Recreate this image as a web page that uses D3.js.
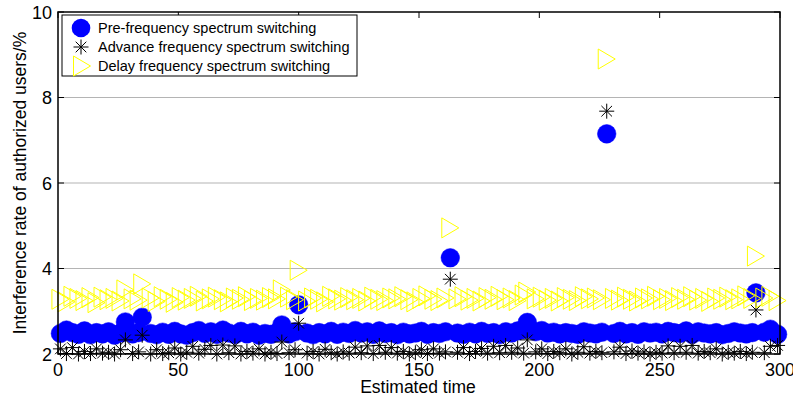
<!DOCTYPE html>
<html><head><meta charset="utf-8">
<script src="https://cdn.jsdelivr.net/npm/d3@7"></script>
<style>body{margin:0;background:#fff}svg{display:block}text{font-family:"Liberation Sans",Arial,sans-serif}</style>
</head><body><svg id="c" width="793" height="399"></svg>
<script>
const times = [1,3.5,6,8.5,11,13.5,16,18.5,21,23.5,26,28,31,33.5,35,38.5,41,43.5,46,48.5,
51,53.5,56,58.5,61,63.5,66,68.5,71,73.5,76,78.5,81,83.5,86,88.5,91,93,96,98.5,
100,103.5,106,108.5,111,113.5,116,118.5,121,123.5,126,128.5,131,133.5,136,138.5,141,143.5,146,148.5,
151,153.5,156,158.5,161,163,166,168.5,171,173.5,176,178.5,181,183.5,186,188.5,191,193.5,195,198.5,
201,203.5,206,208.5,211,213.5,216,218.5,221,223.5,226,228,231,233.5,236,238.5,241,243.5,246,248.5,
251,253.5,256,258.5,261,263.5,266,268.5,271,273.5,276,278.5,281,283.5,286,288.5,290,293.5,296,299];
const preSwitch = [2.48,2.56,2.50,2.46,2.54,2.45,2.50,2.47,2.52,2.44,2.49,2.75,2.47,2.50,2.86,2.48,2.45,2.51,2.46,2.53,
2.47,2.44,2.50,2.55,2.48,2.52,2.46,2.56,2.49,2.45,2.53,2.47,2.51,2.44,2.48,2.46,2.50,2.68,2.47,2.52,
3.15,2.49,2.45,2.50,2.47,2.53,2.46,2.51,2.48,2.55,2.49,2.52,2.46,2.54,2.48,2.50,2.45,2.51,2.47,2.49,
2.53,2.46,2.50,2.48,2.52,4.25,2.49,2.46,2.51,2.47,2.53,2.48,2.50,2.45,2.52,2.49,2.54,2.57,2.74,2.52,
2.55,2.49,2.51,2.47,2.50,2.48,2.46,2.52,2.49,2.47,2.51,7.15,2.48,2.53,2.47,2.50,2.46,2.52,2.49,2.51,
2.47,2.53,2.50,2.48,2.54,2.46,2.52,2.49,2.47,2.50,2.45,2.48,2.52,2.49,2.47,2.50,3.43,2.51,2.58,2.46];
const advanceSwitch = [2.12,2.01,2.15,2.00,2.06,2.01,2.12,2.02,2.04,2.00,2.10,2.33,2.01,2.05,2.44,2.00,2.10,2.01,2.03,2.14,
2.00,2.04,2.18,2.02,2.11,2.20,2.00,2.21,2.03,2.19,2.00,2.06,2.02,2.12,2.00,2.04,2.01,2.28,2.03,2.10,
2.72,2.02,2.06,2.00,2.11,2.03,2.00,2.05,2.02,2.16,2.03,2.19,2.01,2.20,2.04,2.15,2.02,2.06,2.00,2.03,
2.10,2.01,2.12,2.02,2.05,3.75,2.04,2.15,2.01,2.06,2.13,2.02,2.18,2.03,2.20,2.04,2.14,2.02,2.33,2.05,
2.12,2.01,2.06,2.03,2.12,2.00,2.04,2.17,2.02,2.06,2.03,7.68,2.05,2.16,2.01,2.07,2.02,2.05,2.00,2.04,
2.02,2.19,2.03,2.18,2.04,2.20,2.02,2.06,2.03,2.12,2.00,2.04,2.02,2.06,2.01,2.04,3.03,2.03,2.18,2.20];
const delaySwitch = [3.28,3.22,3.35,3.30,3.25,3.32,3.20,3.33,3.27,3.30,3.24,3.50,3.29,3.26,3.64,3.31,3.23,3.34,3.28,3.21,
3.32,3.26,3.30,3.35,3.24,3.29,3.33,3.27,3.22,3.31,3.28,3.34,3.25,3.30,3.26,3.32,3.29,3.50,3.33,3.27,
3.96,3.24,3.31,3.28,3.22,3.35,3.29,3.26,3.32,3.27,3.30,3.24,3.33,3.28,3.25,3.31,3.29,3.34,3.27,3.22,
3.30,3.36,3.28,3.25,3.31,4.95,3.29,3.34,3.26,3.30,3.24,3.32,3.28,3.35,3.27,3.31,3.25,3.38,3.45,3.29,
3.33,3.26,3.30,3.24,3.32,3.28,3.25,3.34,3.29,3.31,3.27,8.90,3.30,3.26,3.33,3.28,3.24,3.31,3.29,3.35,
3.27,3.30,3.25,3.32,3.28,3.34,3.26,3.30,3.23,3.31,3.28,3.33,3.27,3.29,3.36,3.30,4.29,3.31,3.35,3.25];
const xTicks = [0,50,100,150,200,250,300];
const yTicks = [2,4,6,8,10];
const seriesNames = ["Pre-frequency spectrum switching","Advance frequency spectrum switching","Delay frequency spectrum switching"];
const xLabel = "Estimated time";
const yLabel = "Interference rate of authorized users/%";

const svg = d3.select("#c");
const L=58,R=780,T=12,B=354;
const x = d3.scaleLinear().domain([0,300]).range([L,R]);
const y = d3.scaleLinear().domain([2,10]).range([B,T]);

// grid
svg.append("g").selectAll("line").data(yTicks.filter(d=>d>2&&d<10)).join("line")
  .attr("x1",L).attr("x2",R).attr("y1",d=>y(d)).attr("y2",d=>y(d))
  .attr("stroke","#b4b4b4").attr("stroke-width",1.2);

const starPath = (s)=>{const a=s*0.7071;return `M${-s},0L${s},0M0,${-s}L0,${s}M${-a},${-a}L${a},${a}M${-a},${a}L${a},${-a}`;};
const triPath = "M-8.5,-10L8.5,0L-8.5,10Z";

const pts = times.map((t,i)=>({t,a:preSwitch[i],b:advanceSwitch[i],c:delaySwitch[i]}));
const g = svg.append("g");
g.selectAll("circle").data(pts).join("circle")
  .attr("cx",d=>x(d.t)).attr("cy",d=>y(d.a)).attr("r",9.3).attr("fill","#0000ff").attr("stroke","#0000ff").attr("stroke-width",0.5);
g.selectAll("path.star").data(pts).join("path").attr("class","star")
  .attr("d",starPath(7.5)).attr("transform",d=>`translate(${x(d.t)},${y(d.b)})`)
  .attr("stroke","#000").attr("stroke-width",1).attr("fill","none");
g.selectAll("path.tri").data(pts).join("path").attr("class","tri")
  .attr("d",triPath).attr("transform",d=>`translate(${x(d.t)},${y(d.c)})`)
  .attr("stroke","#ffff00").attr("stroke-width",1).attr("fill","none");

// axes frame
const ax = svg.append("g").attr("fill","none").attr("stroke","#000").attr("stroke-width",1.5);
ax.append("rect").attr("x",L).attr("y",T).attr("width",R-L).attr("height",B-T);
const tl=6;
xTicks.forEach(v=>{
  ax.append("line").attr("x1",x(v)).attr("x2",x(v)).attr("y1",B).attr("y2",B-tl).attr("stroke-width",1);
  ax.append("line").attr("x1",x(v)).attr("x2",x(v)).attr("y1",T).attr("y2",T+tl).attr("stroke-width",1);
});
yTicks.forEach(v=>{
  ax.append("line").attr("x1",L).attr("x2",L+tl).attr("y1",y(v)).attr("y2",y(v)).attr("stroke-width",1);
  ax.append("line").attr("x1",R).attr("x2",R-tl).attr("y1",y(v)).attr("y2",y(v)).attr("stroke-width",1);
});
svg.append("g").selectAll("text").data(xTicks).join("text")
  .attr("x",d=>x(d)).attr("y",376).attr("text-anchor","middle").attr("font-size",18).text(d=>d);
svg.append("g").selectAll("text").data(yTicks).join("text")
  .attr("x",52).attr("y",d=>y(d)+6.5).attr("text-anchor","end").attr("font-size",18).text(d=>d);
svg.append("text").attr("x",418).attr("y",393).attr("text-anchor","middle").attr("font-size",17.5).text(xLabel);
svg.append("text").attr("transform","translate(26,183) rotate(-90)").attr("text-anchor","middle").attr("font-size",17.5).text(yLabel);

// legend
const lg = svg.append("g");
lg.append("rect").attr("x",62).attr("y",15).attr("width",295).attr("height",61).attr("fill","#fff").attr("stroke","#000").attr("stroke-width",1);
const ly=[28,47,66];
lg.append("circle").attr("cx",81).attr("cy",ly[0]).attr("r",9.3).attr("fill","#0000ff");
lg.append("path").attr("d",starPath(7.5)).attr("transform",`translate(81,${ly[1]})`).attr("stroke","#000").attr("fill","none");
lg.append("path").attr("d",triPath).attr("transform",`translate(82,${ly[2]})`).attr("stroke","#ffff00").attr("fill","none");
lg.selectAll("text").data(seriesNames).join("text").attr("x",98).attr("y",(d,i)=>ly[i]+5).attr("font-size",14.5).text(d=>d);
</script></body></html>
